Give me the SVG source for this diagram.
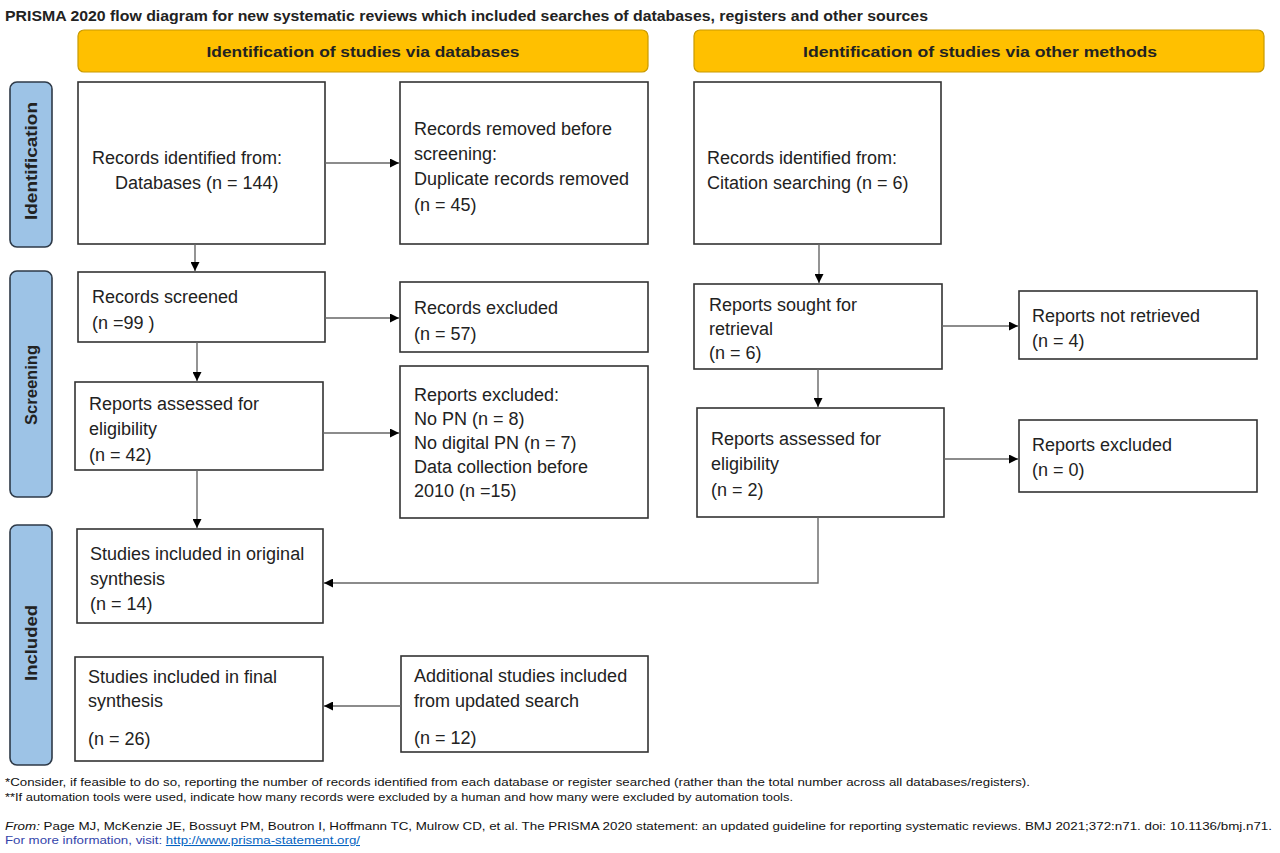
<svg xmlns="http://www.w3.org/2000/svg" width="1280" height="853" viewBox="0 0 1280 853">
<defs>
<marker id="ah" viewBox="0 0 10 10" refX="10" refY="5" markerWidth="9" markerHeight="9" markerUnits="userSpaceOnUse" orient="auto">
<path d="M0,0 L10,5 L0,10 z" fill="#000"/>
</marker>
<style>
.box{fill:#fff;stroke:#333;stroke-width:1.6}
.hdr{fill:#FFC000;stroke:#C99A00;stroke-width:1.2}
.side{fill:#9DC3E6;stroke:#2E3A48;stroke-width:1.6}
.t{font-family:"Liberation Sans",Arial,sans-serif;font-size:18px;fill:#222}
.h{font-family:"Liberation Sans",Arial,sans-serif;font-size:15.5px;font-weight:bold;fill:#222}
.s{font-family:"Liberation Sans",Arial,sans-serif;font-size:16.5px;font-weight:bold;fill:#222}
.f{font-family:"Liberation Sans",Arial,sans-serif;font-size:10.5px;fill:#111}
.c{fill:none;stroke:#666;stroke-width:1.4}
</style>
</defs>
<rect width="1280" height="853" fill="#fff"/>
<text x="5" y="21" class="h" font-size="13.5" textLength="923" lengthAdjust="spacingAndGlyphs">PRISMA 2020 flow diagram for new systematic reviews which included searches of databases, registers and other sources</text>

<g id="hdr-databases"><rect class="hdr" x="78" y="30" width="570" height="42" rx="6"/><text class="h" x="363" y="57" text-anchor="middle" textLength="313" lengthAdjust="spacingAndGlyphs">Identification of studies via databases</text></g>
<g id="hdr-other"><rect class="hdr" x="694" y="30" width="570" height="42" rx="6"/><text class="h" x="980" y="57" text-anchor="middle" textLength="354" lengthAdjust="spacingAndGlyphs">Identification of studies via other methods</text></g>

<g id="side-identification"><rect class="side" x="10" y="82" width="42" height="165" rx="7"/><text class="s" transform="translate(37,161) rotate(-90)" text-anchor="middle" textLength="118" lengthAdjust="spacingAndGlyphs">Identification</text></g>
<g id="side-screening"><rect class="side" x="10" y="271" width="42" height="226" rx="7"/><text class="s" transform="translate(37,385) rotate(-90)" text-anchor="middle" textLength="80" lengthAdjust="spacingAndGlyphs">Screening</text></g>
<g id="side-included"><rect class="side" x="10" y="525" width="42" height="240" rx="7"/><text class="s" transform="translate(37,643) rotate(-90)" text-anchor="middle" textLength="76" lengthAdjust="spacingAndGlyphs">Included</text></g>

<g id="n-db-identified"><rect class="box" x="78" y="82" width="247" height="162"/><text class="t" x="92" y="164">Records identified from:</text><text class="t" x="115" y="189">Databases (n = 144)</text></g>
<g id="n-removed"><rect class="box" x="400" y="82" width="248" height="162"/><text class="t" x="414" y="135">Records removed before</text><text class="t" x="414" y="160">screening:</text><text class="t" x="414" y="185">Duplicate records removed</text><text class="t" x="414" y="211">(n = 45)</text></g>
<g id="n-other-identified"><rect class="box" x="694" y="82" width="247" height="162"/><text class="t" x="707" y="164">Records identified from:</text><text class="t" x="707" y="189">Citation searching (n = 6)</text></g>

<g id="n-screened"><rect class="box" x="78" y="272" width="247" height="70"/><text class="t" x="92" y="303">Records screened</text><text class="t" x="92" y="329">(n =99 )</text></g>
<g id="n-excluded"><rect class="box" x="400" y="282" width="248" height="70"/><text class="t" x="414" y="314">Records excluded</text><text class="t" x="414" y="340">(n = 57)</text></g>
<g id="n-assessed"><rect class="box" x="75" y="382" width="248" height="88"/><text class="t" x="89" y="410">Reports assessed for</text><text class="t" x="89" y="435">eligibility</text><text class="t" x="89" y="461">(n = 42)</text></g>
<g id="n-reports-excluded"><rect class="box" x="400" y="366" width="248" height="152"/><text class="t" x="414" y="401">Reports excluded:</text><text class="t" x="414" y="425">No PN (n = 8)</text><text class="t" x="414" y="449">No digital PN (n = 7)</text><text class="t" x="414" y="473">Data collection before</text><text class="t" x="414" y="497">2010 (n =15)</text></g>

<g id="n-sought"><rect class="box" x="694" y="284" width="248" height="85"/><text class="t" x="709" y="311">Reports sought for</text><text class="t" x="709" y="335">retrieval</text><text class="t" x="709" y="359">(n = 6)</text></g>
<g id="n-not-retrieved"><rect class="box" x="1019" y="291" width="238" height="68"/><text class="t" x="1032" y="322">Reports not retrieved</text><text class="t" x="1032" y="347">(n = 4)</text></g>
<g id="n-other-assessed"><rect class="box" x="697" y="408" width="247" height="109"/><text class="t" x="711" y="445">Reports assessed for</text><text class="t" x="711" y="470">eligibility</text><text class="t" x="711" y="496">(n = 2)</text></g>
<g id="n-other-excluded"><rect class="box" x="1019" y="420" width="238" height="72"/><text class="t" x="1032" y="451">Reports excluded</text><text class="t" x="1032" y="476">(n = 0)</text></g>

<g id="n-original"><rect class="box" x="77" y="529" width="246" height="94"/><text class="t" x="90" y="560">Studies included in original</text><text class="t" x="90" y="585">synthesis</text><text class="t" x="90" y="610">(n = 14)</text></g>
<g id="n-final"><rect class="box" x="75" y="657" width="248" height="104"/><text class="t" x="88" y="683">Studies included in final</text><text class="t" x="88" y="707">synthesis</text><text class="t" x="88" y="745">(n = 26)</text></g>
<g id="n-additional"><rect class="box" x="401" y="656" width="247" height="96"/><text class="t" x="414" y="682">Additional studies included</text><text class="t" x="414" y="707">from updated search</text><text class="t" x="414" y="744">(n = 12)</text></g>

<g id="connectors">
<path class="c" d="M325,163 H399" marker-end="url(#ah)"/>
<path class="c" d="M195,244 V271" marker-end="url(#ah)"/>
<path class="c" d="M325,318 H399" marker-end="url(#ah)"/>
<path class="c" d="M197,342 V381" marker-end="url(#ah)"/>
<path class="c" d="M323,433 H399" marker-end="url(#ah)"/>
<path class="c" d="M197,470 V528" marker-end="url(#ah)"/>
<path class="c" d="M819,244 V283" marker-end="url(#ah)"/>
<path class="c" d="M942,326 H1018" marker-end="url(#ah)"/>
<path class="c" d="M818,369 V407" marker-end="url(#ah)"/>
<path class="c" d="M944,459 H1018" marker-end="url(#ah)"/>
<path class="c" d="M818,517 V583 H324" marker-end="url(#ah)"/>
<path class="c" d="M401,706 H324" marker-end="url(#ah)"/>
</g>

<g id="footer">
<text class="f" x="5" y="786" textLength="1025" lengthAdjust="spacingAndGlyphs">*Consider, if feasible to do so, reporting the number of records identified from each database or register searched (rather than the total number across all databases/registers).</text>
<text class="f" x="5" y="801" textLength="788" lengthAdjust="spacingAndGlyphs">**If automation tools were used, indicate how many records were excluded by a human and how many were excluded by automation tools.</text>
<text class="f" x="5" y="830" textLength="1267" lengthAdjust="spacingAndGlyphs"><tspan font-style="italic">From:</tspan>  Page MJ, McKenzie JE, Bossuyt PM, Boutron I, Hoffmann TC, Mulrow CD, et al. The PRISMA 2020 statement: an updated guideline for reporting systematic reviews. BMJ 2021;372:n71. doi: 10.1136/bmj.n71.</text>
<text class="f" x="5" y="844" fill="#3344AA" textLength="355" lengthAdjust="spacingAndGlyphs"><tspan fill="#3344AA">For more information, visit: </tspan><tspan fill="#0563C1" text-decoration="underline">http://www.prisma-statement.org/</tspan></text>
</g>
</svg>
